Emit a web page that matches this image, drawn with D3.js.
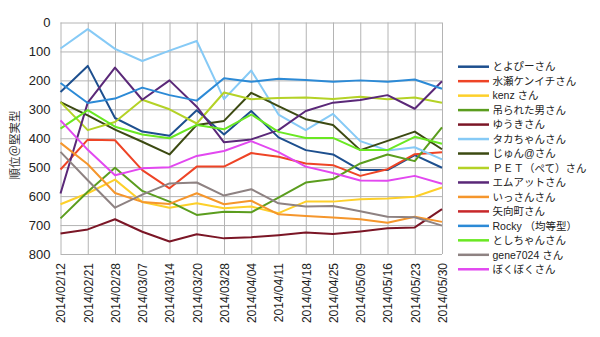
<!DOCTYPE html>
<html>
<head>
<meta charset="utf-8">
<script src="https://cdn.jsdelivr.net/npm/d3@7"></script>
<style>
  html, body { margin: 0; padding: 0; background: #fff; }
  svg { display: block; }
  .tick text { font-family: "Liberation Sans", Arial, sans-serif; fill: #222; }
</style>
</head>
<body>
<svg id="chart" width="600" height="337"></svg>
<script>
// Weekly ranking dates
const dates = ["2014/02/12","2014/02/21","2014/02/28","2014/03/07","2014/03/14","2014/03/20","2014/03/28",
  "2014/04/04","2014/04/11","2014/04/18","2014/04/25","2014/05/09","2014/05/16","2014/05/23","2014/05/30"];

// Rank axis ticks
const rankTicks = [0, 100, 200, 300, 400, 500, 600, 700, 800];

// Participant names (legend order)
const names = ["とよぴーさん","水瀬ケンイチさん","kenz さん","吊られた男さん","ゆうきさん","タカちゃんさん",
  "じゅん@さん","ＰＥＴ（ぺて）さん","エムアットさん","いっさんさん","矢向町さん","Rocky （均等型）",
  "としちゃんさん","gene7024 さん","ぼくぼくさん"];

// Rank per participant per date
const toyopi   = [240, 150, 330, 377, 391, 303, 387, 306, 397, 441, 456, 510, 510, 458, 502];
const minase   = [508, 405, 407, 510, 573, 498, 498, 451, 464, 487, 493, 530, 507, 455, 448];
const kenz     = [628, 590, 543, 620, 640, 625, 642, 636, 659, 619, 619, 611, 608, 602, 570];
const tsurareta= [677, 585, 502, 582, 619, 665, 654, 656, 605, 553, 541, 487, 456, 479, 362];
const yuki     = [729, 715, 680, 723, 757, 732, 746, 742, 735, 726, 731, 722, 711, 708, 645];
const takachan = [ 90,  23,  91, 133,  97,  64, 265, 166, 318, 372, 316, 410, 442, 431, 473];
const jun      = [275, 321, 370, 412, 456, 354, 340, 243, 289, 334, 354, 441, 409, 377, 438];
const pet      = [275, 372, 344, 267, 300, 349, 242, 265, 261, 259, 264, 257, 265, 259, 277];
const muat     = [591, 277, 156, 267, 200, 291, 414, 404, 372, 306, 277, 268, 251, 298, 203];
const issan    = [416, 490, 589, 620, 627, 590, 628, 616, 663, 669, 674, 680, 692, 671, 689];
const yakocho  = [null, null, null, null, null, null, null, null, null, null, null, null, null, null, null];
const rocky    = [209, 278, 263, 225, 251, 270, 193, 205, 194, 199, 205, 200, 205, 197, 229];
const toshi    = [367, 303, 360, 387, 400, 354, 369, 318, 378, 399, 399, 441, 441, 395, 419];
const gene     = [447, 545, 640, 595, 556, 553, 598, 576, 625, 636, 634, 652, 671, 673, 702];
const bokuboku = [338, 440, 528, 504, 500, 461, 444, 410, 448, 498, 520, 546, 547, 530, 557];

const values = [toyopi, minase, kenz, tsurareta, yuki, takachan, jun, pet, muat, issan,
  yakocho, rocky, toshi, gene, bokuboku];

const colors = ["#1d4f8e","#ee4426","#fdd02a","#5b9d1e","#7b1626","#86caf6","#3c4a12","#b4d226",
  "#5a2878","#f5962c","#c8282a","#2c8ad6","#6ae822","#8e8282","#e248f0"];

const series = names.map((name, i) => ({ name, color: colors[i], values: values[i] }));

const svg = d3.select("#chart");
const margin = { left: 60.5, right: 442, top: 22.5, bottom: 254 };

const x = d3.scalePoint().domain(dates).range([margin.left, margin.right]);
const y = d3.scaleLinear().domain([0, 800]).range([margin.top, margin.bottom]);

// Horizontal grid + rank labels
const yAxis = svg.append("g")
  .attr("transform", `translate(${margin.left},0)`)
  .call(d3.axisLeft(y).tickValues(rankTicks).tickSize(-(margin.right - margin.left)).tickPadding(10));
yAxis.select(".domain").remove();
yAxis.selectAll(".tick line").attr("stroke", "#b4b4b4").attr("stroke-width", 1);
yAxis.selectAll(".tick text").attr("font-size", 13).attr("dx", "0");

// Vertical grid + date labels
const xAxis = svg.append("g")
  .attr("transform", `translate(0,${margin.bottom})`)
  .call(d3.axisBottom(x).tickSize(-(margin.bottom - margin.top)).tickPadding(0));
xAxis.select(".domain").remove();
xAxis.selectAll(".tick line").attr("stroke", "#b4b4b4").attr("stroke-width", 1);
xAxis.selectAll(".tick text")
  .attr("font-size", 12)
  .attr("text-anchor", "end")
  .attr("transform", "rotate(-90)")
  .attr("x", -9)
  .attr("y", 0)
  .attr("dy", "0.36em");

// Y axis title
svg.append("text")
  .attr("transform", "translate(19,145) rotate(-90)")
  .attr("text-anchor", "middle")
  .attr("font-family", "'Noto Sans CJK JP', sans-serif")
  .attr("font-size", 11.5)
  .attr("fill", "#333")
  .text("順位＠堅実型");

// Lines
const line = d3.line()
  .defined(d => d != null)
  .x((d, i) => x(dates[i]))
  .y(d => y(d));

svg.append("g").selectAll("path")
  .data(series)
  .join("path")
  .attr("fill", "none")
  .attr("stroke", d => d.color)
  .attr("stroke-width", 2)
  .attr("stroke-linejoin", "round")
  .attr("d", d => line(d.values));

// Legend
const legend = svg.append("g").attr("transform", "translate(458,66.7)");
const rows = legend.selectAll("g")
  .data(series)
  .join("g")
  .attr("transform", (d, i) => `translate(0,${i * 14.47})`);
rows.append("line")
  .attr("x1", 0).attr("x2", 31)
  .attr("stroke", d => d.color)
  .attr("stroke-width", 2.5);
rows.append("text")
  .attr("x", 34.5)
  .attr("dy", "0.36em")
  .attr("font-family", "'Liberation Sans', 'Noto Sans CJK JP', sans-serif")
  .attr("font-size", 10.5)
  .attr("fill", "#222")
  .text(d => d.name);
</script>
</body>
</html>
